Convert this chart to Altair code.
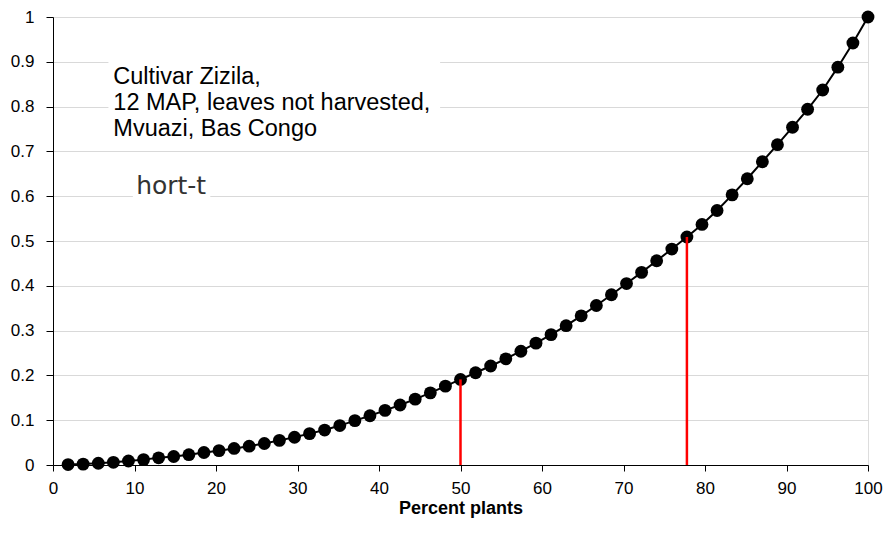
import altair as alt
import pandas as pd

# ---- data ----
pct_plants = [1.85, 3.70, 5.56, 7.41, 9.26, 11.11, 12.96, 14.81, 16.67, 18.52,
              20.37, 22.22, 24.07, 25.93, 27.78, 29.63, 31.48, 33.33, 35.19, 37.04,
              38.89, 40.74, 42.59, 44.44, 46.30, 48.15, 50.00, 51.85, 53.70, 55.56,
              57.41, 59.26, 61.11, 62.96, 64.81, 66.67, 68.52, 70.37, 72.22, 74.07,
              75.93, 77.78, 79.63, 81.48, 83.33, 85.19, 87.04, 88.89, 90.74, 92.59,
              94.44, 96.30, 98.15, 100.00]
cum_share = [0.001, 0.002, 0.004, 0.006, 0.009, 0.012, 0.016, 0.019, 0.023, 0.028,
             0.032, 0.037, 0.042, 0.048, 0.055, 0.062, 0.070, 0.078, 0.088, 0.099,
             0.110, 0.122, 0.134, 0.147, 0.161, 0.176, 0.191, 0.206, 0.221, 0.237,
             0.254, 0.272, 0.291, 0.311, 0.333, 0.356, 0.380, 0.405, 0.430, 0.456,
             0.482, 0.509, 0.537, 0.568, 0.603, 0.639, 0.677, 0.715, 0.754, 0.794,
             0.837, 0.888, 0.942, 1.000]
marker_x = [50.0, 77.78]
marker_y = [0.191, 0.509]
x_ticks = [0, 10, 20, 30, 40, 50, 60, 70, 80, 90, 100]
y_ticks = [0, 0.1, 0.2, 0.3, 0.4, 0.5, 0.6, 0.7, 0.8, 0.9, 1]
note_lines = ["Cultivar Zizila,", "12 MAP, leaves not harvested,", "Mvuazi, Bas Congo"]
tag_text = "hort-t"
x_title = "Percent plants"

df = pd.DataFrame({"x": pct_plants, "y": cum_share})
mk = pd.DataFrame({"x": marker_x, "y": marker_y, "y0": [0.0] * len(marker_x)})
one = pd.DataFrame({"a": [0]})

FONT = "Liberation Sans"
xs = alt.Scale(domain=[0, 100], nice=False, zero=False)
ys = alt.Scale(domain=[0, 1], nice=False)

x_enc = alt.X("x:Q", scale=xs, axis=alt.Axis(
    values=x_ticks, title=x_title, grid=False, domainColor="black", domainWidth=1,
    tickColor="black", tickSize=6, labelFont=FONT, labelFontSize=17, labelColor="black",
    labelPadding=9, titleFont=FONT, titleFontSize=18, titleFontWeight="bold",
    titleColor="black", titlePadding=3, labelFlush=False))
y_enc = alt.Y("y:Q", scale=ys, axis=alt.Axis(
    values=y_ticks, format=".1~f", title=None, grid=True, gridColor="#d9d9d9",
    gridWidth=1, domainColor="black", domainWidth=1, tickColor="black", tickSize=7,
    labelFont=FONT, labelFontSize=17, labelColor="black", labelPadding=12))

line = alt.Chart(df).mark_line(color="black", strokeWidth=2).encode(x=x_enc, y=y_enc)
pts = alt.Chart(df).mark_point(filled=True, shape="circle", size=165, color="black",
                               opacity=1).encode(x="x:Q", y="y:Q")
rules = alt.Chart(mk).mark_rule(color="#ff0000", strokeWidth=2.5).encode(
    x="x:Q", y="y:Q", y2="y0:Q")

box = alt.Chart(one).mark_rect(color="white").encode(
    x=alt.datum(6.8), x2=alt.datum(47.5), y=alt.datum(0.915), y2=alt.datum(0.715))
tag_box = alt.Chart(one).mark_rect(color="white").encode(
    x=alt.datum(9.8), x2=alt.datum(19.3), y=alt.datum(0.585), y2=alt.datum(0.64))

texts = []
for txt, yy in zip(note_lines, [0.867, 0.808, 0.749]):
    texts.append(alt.Chart(one).mark_text(
        text=txt, align="left", baseline="middle", font=FONT, fontSize=23.5,
        color="black").encode(x=alt.datum(7.4), y=alt.datum(yy)))
tag = alt.Chart(one).mark_text(
    text=tag_text, align="left", baseline="middle", font="DejaVu Sans", fontSize=25,
    color="#333333").encode(x=alt.datum(10.2), y=alt.datum(0.622))

chart = alt.layer(line, box, tag_box, *texts, tag, pts, rules).properties(
    width=815, height=448,
    autosize=alt.AutoSizeParams(type="none"),
    padding={"left": 45, "top": 9, "right": 16, "bottom": 72},
).configure_view(stroke="#8c8c8c", strokeWidth=1).configure(background="white")

chart.save("out.html", embed_options={"renderer": "svg", "actions": False})
